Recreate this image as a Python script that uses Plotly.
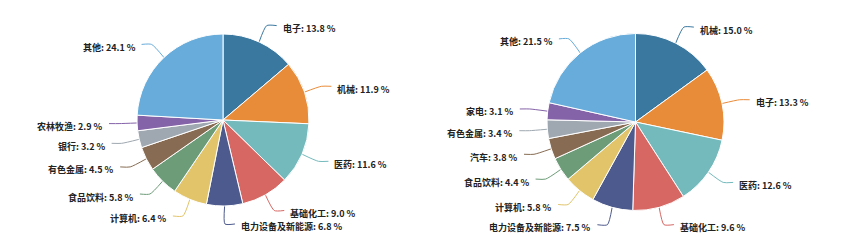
import math
import plotly.graph_objects as go

W, H = 859, 249

left_labels = ["电子", "机械", "医药", "基础化工", "电力设备及新能源", "计算机",
               "食品饮料", "有色金属", "银行", "农林牧渔", "其他"]
left_values = [13.8, 11.9, 11.6, 9.0, 6.8, 6.4, 5.8, 4.5, 3.2, 2.9, 24.1]

right_labels = ["机械", "电子", "医药", "基础化工", "电力设备及新能源", "计算机",
                "食品饮料", "汽车", "有色金属", "家电", "其他"]
right_values = [15.0, 13.3, 12.6, 9.6, 7.5, 5.8, 4.4, 3.8, 3.4, 3.1, 21.5]

colors = ["#3b78a0", "#e98c3a", "#74babd", "#d66763", "#4d5a8d", "#e2c46a",
          "#6c9c78", "#876c53", "#9fa8b0", "#8563a8", "#67acda"]

FONT = "Noto Sans CJK SC"

# pie geometry in pixels (center x, center y from top, radius)
pies = [
    (left_labels, left_values, 223.0, 120.0, 86.0),
    (right_labels, right_values, 635.5, 122.0, 88.5),
]

L1, L2, GAP = 18, 10, 4

fig = go.Figure()
annotations = []

for labels, values, cx, cy, r in pies:
    fig.add_trace(go.Pie(
        labels=labels, values=values, sort=False, direction="clockwise",
        rotation=0, textinfo="none", hoverinfo="label+percent",
        marker=dict(colors=colors, line=dict(color="white", width=1)),
        domain=dict(x=[(cx - r) / W, (cx + r) / W],
                    y=[(H - cy - r) / H, (H - cy + r) / H]),
        showlegend=False,
    ))
    total = sum(values)
    cum = 0.0
    for i, (lab, v) in enumerate(zip(labels, values)):
        mid = (cum + v / 2) / total * 2 * math.pi
        cum += v
        s, c = math.sin(mid), math.cos(mid)
        x0, y0 = cx + r * s, cy - r * c
        x1, y1 = cx + (r + L1) * s, cy - (r + L1) * c
        side = 1 if s >= 0 else -1
        x2, y2 = x1 + side * L2, y1
        fig.add_trace(go.Scatter(
            x=[x0, x1, x2], y=[y0, y1, y2], mode="lines",
            line=dict(color=colors[i], width=1, shape="spline", smoothing=0.6),
            hoverinfo="skip", showlegend=False,
            xaxis="x", yaxis="y",
        ))
        annotations.append(dict(
            x=x2 + side * GAP, y=y2 + 3, xref="x", yref="y",
            text=f"<b>{lab}: {v:.1f} %</b>", showarrow=False,
            xanchor="left" if side > 0 else "right", yanchor="middle",
            font=dict(family=FONT, size=9, color="#222222"),
        ))

fig.update_layout(
    width=W, height=H, margin=dict(l=0, r=0, t=0, b=0),
    paper_bgcolor="white", plot_bgcolor="rgba(0,0,0,0)",
    xaxis=dict(range=[0, W], visible=False, fixedrange=True, domain=[0, 1]),
    yaxis=dict(range=[H, 0], visible=False, fixedrange=True, domain=[0, 1]),
    annotations=annotations,
    font=dict(family=FONT),
)

fig.write_html("out.html")
